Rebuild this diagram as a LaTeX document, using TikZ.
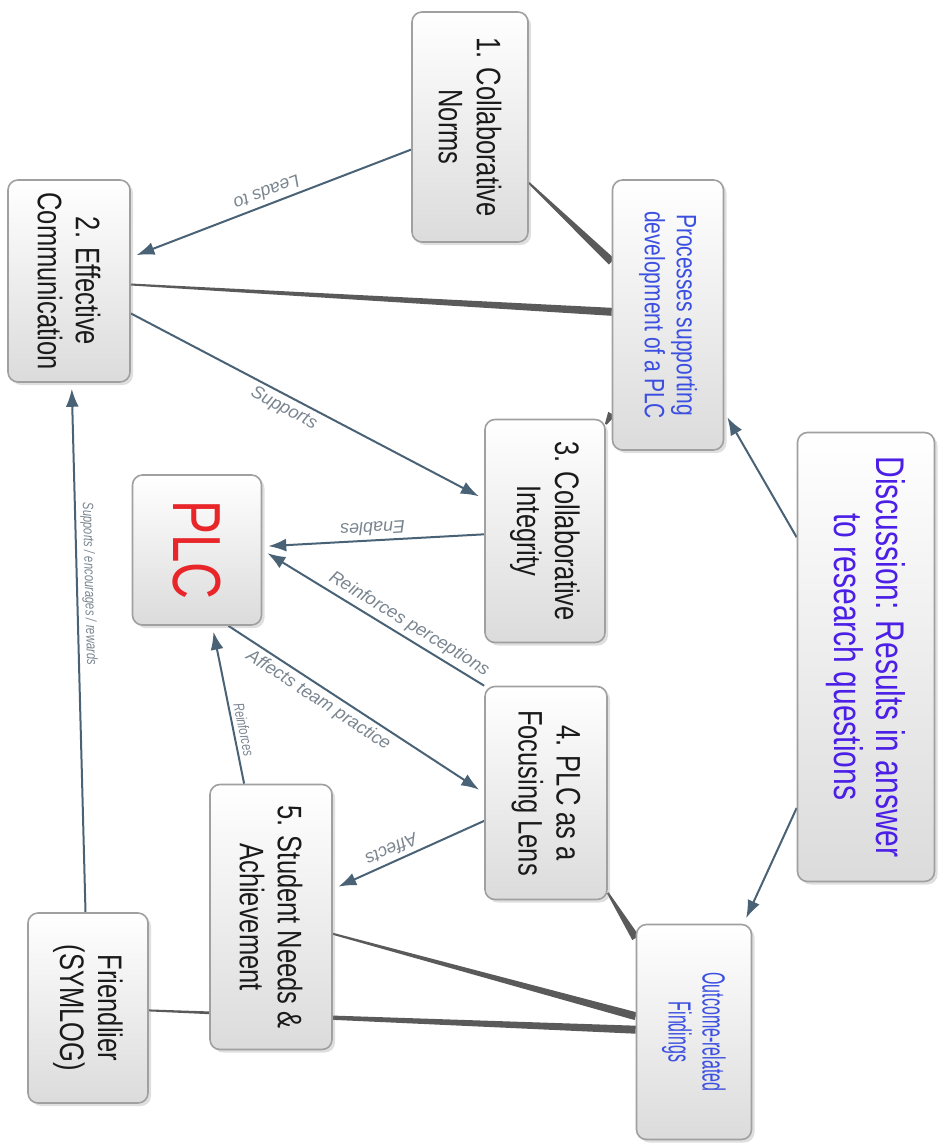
\documentclass[tikz,border=0pt]{standalone}
\usepackage{fontspec}
\setmainfont{Liberation Sans}[FakeStretch=0.75]
\newfontfamily\narrowfont{Liberation Sans}[FakeStretch=0.5]
\newfontfamily\lblfont{Liberation Sans}
\usetikzlibrary{arrows.meta,calc,shadows,positioning}

\definecolor{arrowcol}{HTML}{4A6275}
\definecolor{linecol}{HTML}{5A5A5A}
\definecolor{lblcol}{HTML}{7A8590}
\definecolor{boxtext}{HTML}{1A1A1A}
\definecolor{boxline}{HTML}{A0A0A0}
\definecolor{procblue}{HTML}{3B4FE0}
\definecolor{discblue}{HTML}{4B1FE6}
\definecolor{plcred}{HTML}{E8262A}

\pgfdeclarelayer{edges}
\pgfsetlayers{edges,main}

\tikzset{
  box/.style={draw=boxline, line width=0.8pt, rounded corners=5pt,
    top color=white, bottom color=gray!28,
    drop shadow={opacity=0.25, shadow xshift=1.5pt, shadow yshift=-1.5pt},
    align=center, inner sep=3pt, text=boxtext, font=\fontsize{17}{19}\selectfont},
  link/.style={draw=arrowcol, line width=1pt, -{Latex[length=9pt,width=6.5pt]}, shorten >=3pt},
  lbl/.style={font=\lblfont\itshape\fontsize{9}{10}\selectfont, text=lblcol, sloped, inner sep=2pt},
  lblv/.style={lbl, font=\itshape\fontsize{7.5}{9}\selectfont},
}

% thin at the first node, thick at the second
\newcommand\tapline[2]{%
  \path (#1) -- (#2) coordinate[pos=0] (ta) coordinate[pos=1] (tb);
  \fill[linecol] ($(ta)!0.5pt!90:(tb)$) -- ($(tb)!2pt!-90:(ta)$) -- ($(tb)!2pt!90:(ta)$) -- ($(ta)!0.5pt!-90:(tb)$) -- cycle;}

\begin{document}
\begin{tikzpicture}[x=0.5pt, y=0.5pt, rotate=-90, transform shape]
  \useasboundingbox (0,0) rectangle (1145,943);

  % boxes
  \node[box, minimum width=115pt, minimum height=58pt] (norms) at (127,470) {1. Collaborative\\Norms};
  \node[box, minimum width=101pt, minimum height=61pt] (comm) at (281,69) {2. Effective\\Communication};
  \node[box, minimum width=135pt, minimum height=55.5pt, text=procblue, font=\fontsize{14}{16}\selectfont] (proc) at (315,668) {Processes supporting\\development of a PLC};
  \node[box, minimum width=111.5pt, minimum height=60pt] (integ) at (531,545) {3. Collaborative\\Integrity};
  \node[box, minimum width=75pt, minimum height=64.5pt, text=plcred, font=\fontsize{34}{36}\selectfont] (plc) at (550,197) {PLC};
  \node[box, minimum width=106.5pt, minimum height=61pt] (lens) at (793,546) {4. PLC as a\\Focusing Lens};
  \node[box, minimum width=107.5pt, minimum height=57.5pt, text=procblue, font=\narrowfont\fontsize{16}{17}\selectfont] (outc) at (1032,694) {Outcome-related\\Findings};
  \node[box, minimum width=224.5pt, minimum height=68.5pt, text=discblue, font=\fontsize{20}{21}\selectfont] (disc) at (657,866) {Discussion: Results in answer\\to research questions};
  \node[box, minimum width=132.5pt, minimum height=61pt] (student) at (917,271) {5. Student Needs \&\\Achievement};
  \node[box, minimum width=95pt, minimum height=60pt] (friend) at (1008,88) {Friendlier\\(SYMLOG)};

  \begin{pgfonlayer}{edges}
    % undirected links
    \tapline{comm}{proc}
    \tapline{norms}{proc}
    \tapline{integ}{proc}
    \tapline{lens}{outc}
    \tapline{student}{outc}
    \tapline{friend}{outc}
    % arrows
    \draw[link] (norms) -- node[lbl, below] {Leads to} (comm);
    \draw[link] (comm) -- node[lbl, below, pos=0.45] {Supports} (integ);
    \draw[link] (integ) -- node[lbl, below] {Enables} (plc);
    \draw[link] (lens.south west) -- node[lbl, above, pos=0.37] {Reinforces perceptions} (plc.north);
    \draw[link] ($(plc.south east)!0.74!(plc.north east)$) -- node[lbl, below, pos=0.38] {Affects team practice} (lens.south);
    \draw[link] (student) -- node[lblv, above, pos=0.33] {Reinforces} (plc);
    \draw[link] (lens) -- node[lbl, below, pos=0.58] {Affects} (student);
    \draw[link] (friend) -- node[lblv, above, pos=0.62] {Supports / encourages / rewards} (comm);
    \draw[link] (disc) -- (proc);
    \draw[link] (disc) -- (outc);
  \end{pgfonlayer}
\end{tikzpicture}
\end{document}
